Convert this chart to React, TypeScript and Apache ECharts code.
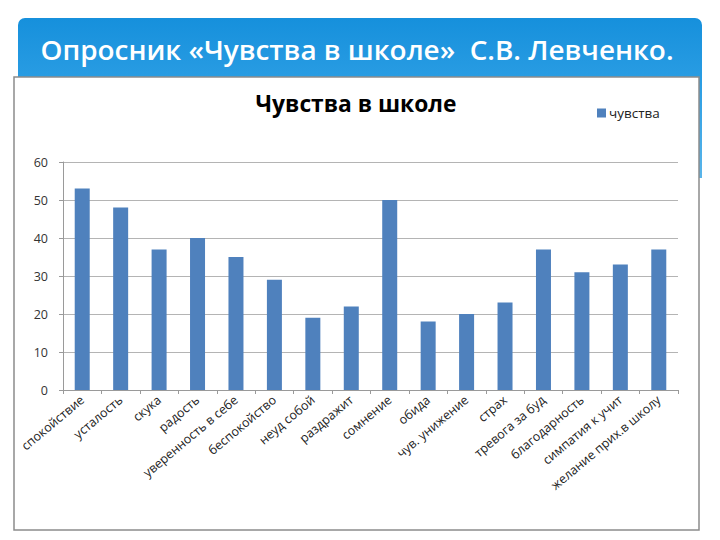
import React, { useEffect, useRef } from "react";
import * as echarts from "echarts";

const categories = [
  "спокойствие",
  "усталость",
  "скука",
  "радость",
  "уверенность в себе",
  "беспокойство",
  "неуд собой",
  "раздражит",
  "сомнение",
  "обида",
  "чув. унижение",
  "страх",
  "тревога за буд",
  "благодарность",
  "симпатия к учит",
  "желание прих.в школу",
];
const values = [53, 48, 37, 40, 35, 29, 19, 22, 50, 18, 20, 23, 37, 31, 33, 37];
const seriesName = "чувства";
const headerTitle = "Опросник «Чувства в школе»  С.В. Левченко.";
const chartTitle = "Чувства в школе";
const yTicks = [0, 10, 20, 30, 40, 50, 60];

export default function App() {
  const ref = useRef<HTMLDivElement>(null);
  useEffect(() => {
    if (!ref.current) return;
    const chart = echarts.init(ref.current, null, { renderer: "svg" });
    chart.setOption({
      animation: false,
      backgroundColor: "#ffffff",
      graphic: [
        {
          type: "rect",
          z: -20,
          shape: { x: 18, y: 18, width: 684, height: 160, r: [7, 7, 0, 0] },
          style: {
            fill: new echarts.graphic.LinearGradient(0, 0, 0, 1, [
              { offset: 0, color: "#1690dc" },
              { offset: 0.4, color: "#2a9de3" },
              { offset: 1, color: "#5ab5ea" },
            ]),
          },
        },
        {
          type: "rect",
          z: -10,
          shape: { x: 14, y: 77, width: 685, height: 453 },
          style: { fill: "#ffffff", stroke: "#8c8c8c", lineWidth: 1.5 },
        },
      ],
      title: [
        {
          text: headerTitle,
          left: 352,
          textAlign: "center",
          top: 30,
          textStyle: {
            color: "#ffffff",
            fontFamily: "Open Sans",
            fontWeight: 600,
            fontSize: 27.9,
          },
        },
        {
          text: chartTitle,
          left: 351,
          textAlign: "center",
          top: 87,
          textStyle: {
            color: "#000000",
            fontFamily: "Open Sans",
            fontWeight: "bold",
            fontSize: 22.8,
          },
        },
      ],
      legend: {
        left: 592,
        top: 101,
        itemWidth: 9,
        itemHeight: 9,
        itemGap: 4,
        icon: "rect",
        data: [seriesName],
        textStyle: { fontFamily: "Open Sans", fontSize: 13.5, color: "#222", padding: [0, 0, 0, -2] },
      },
      grid: { left: 63, right: 42, top: 162, bottom: 150, containLabel: false },
      xAxis: {
        type: "category",
        data: categories,
        boundaryGap: true,
        axisLine: { show: true, lineStyle: { color: "#9a9a9a", width: 1 } },
        axisTick: { show: true, alignWithLabel: false, length: 4, lineStyle: { color: "#9a9a9a" } },
        axisLabel: {
          interval: 0,
          rotate: 40,
          margin: 8,
          fontFamily: "Open Sans",
          fontSize: 12.5,
          color: "#222",
        },
      },
      yAxis: {
        type: "value",
        min: 0,
        max: 60,
        interval: 10,
        axisLine: { show: true, lineStyle: { color: "#9a9a9a", width: 1 } },
        axisTick: { show: true, length: 4, lineStyle: { color: "#9a9a9a" } },
        splitLine: { show: true, lineStyle: { color: "#b4b4b4", width: 1 } },
        axisLabel: {
          margin: 15,
          fontFamily: "Open Sans",
          fontSize: 12.5,
          color: "#333",
          formatter: (v: number) => (yTicks.includes(v) ? String(v) : ""),
        },
      },
      series: [
        {
          name: seriesName,
          type: "bar",
          data: values,
          barWidth: 15,
          itemStyle: { color: "#4f81bd" },
        },
      ],
    });
    return () => chart.dispose();
  }, []);
  return (
    <div
      ref={ref}
      style={{ position: "absolute", left: 0, top: 0, width: 720, height: 540 }}
    />
  );
}
